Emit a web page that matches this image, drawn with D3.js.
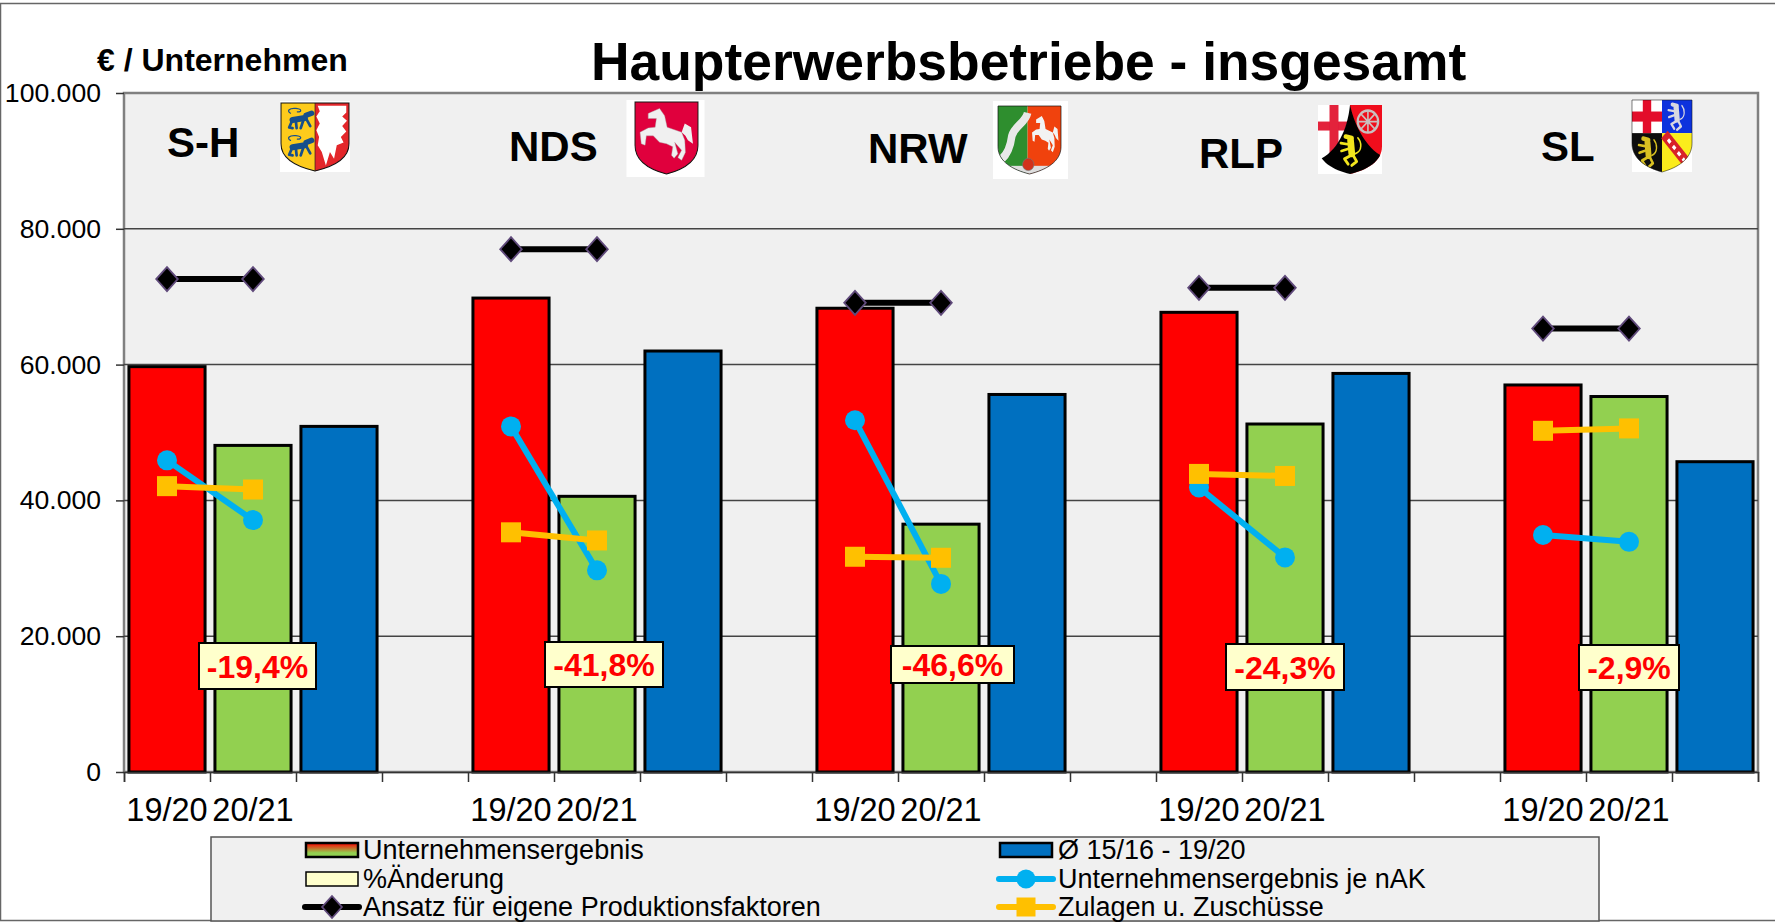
<!DOCTYPE html>
<html>
<head>
<meta charset="utf-8">
<script src="https://cdn.jsdelivr.net/npm/d3@7"></script>
<style>
    html, body { margin: 0; padding: 0; background: #fff; }
    svg { display: block; }
    text { font-family: "Liberation Sans", Arial, sans-serif; fill: #000; }
</style>
</head>
<body>
<svg id="chart" width="1775" height="923"></svg>
<script>
// data
const regions = ['S-H', 'NDS', 'NRW', 'RLP', 'SL'];
const years = ['19/20', '20/21'];
const yTicks = [0, 20000, 40000, 60000, 80000, 100000];

const ergebnis1920 = [59700, 69800, 68300, 67700, 57000];
const ergebnis2021 = [48100, 40600, 36500, 51250, 55300];
const avg1520 = [50900, 62000, 55600, 58700, 45700];
const ansatz1920 = [72600, 77000, 69100, 71300, 65300];
const ansatz2021 = [72600, 77000, 69100, 71300, 65300];
const nak1920 = [45900, 50900, 51800, 41900, 34900];
const nak2021 = [37100, 29700, 27700, 31600, 33900];
const zulagen1920 = [42100, 35300, 31700, 43900, 50250];
const zulagen2021 = [41600, 34100, 31550, 43600, 50600];
const pctChange = ['-19,4%', '-41,8%', '-46,6%', '-24,3%', '-2,9%'];

const legendLeft = ['Unternehmensergebnis', '%Änderung', 'Ansatz für eigene Produktionsfaktoren'];
const legendRight = ['Ø 15/16 - 19/20', 'Unternehmensergebnis je nAK', 'Zulagen u. Zuschüsse'];

// layout
const width = 1775, height = 923;
const plot = { left: 124, right: 1758, top: 93, bottom: 772 };
const red = '#ff0000', green = '#92d050', blue = '#0070c0';
const cyan = '#00b0f0', gold = '#ffc000', paleYellow = '#ffffcc', panel = '#f0f0f0';

// hand placed boxes and region names, the original has them free floating
const pctBoxes = [[199, 643, 117, 46], [545, 642, 118, 45], [891, 646, 123, 37], [1226, 644, 118, 46], [1579, 645, 100, 45]];
const regionLabels = [[167, 157], [509, 161], [868, 163], [1199, 168], [1541, 161]];

const svg = d3.select('#chart');

// outer frame
svg.append('rect').attr('x', 0.5).attr('y', 3.5).attr('width', width + 4).attr('height', 917)
    .attr('fill', '#fff').attr('stroke', '#666').attr('stroke-width', 1.5);

// scales: 19 slots, four per region with the last one of each left empty
const slots = d3.range(regions.length * 4 - 1);
const x = d3.scaleBand().domain(slots).range([plot.left, plot.right]).paddingInner(0.115).paddingOuter(0.0575);
const edge = d3.scaleLinear().domain([0, slots.length]).range([plot.left, plot.right]);
const y = d3.scaleLinear().domain([0, 100000]).range([plot.bottom, plot.top]);
const slotCenter = s => x(s) + x.bandwidth() / 2;

const de = d3.formatLocale({ decimal: ',', thousands: '.', grouping: [3], currency: ['', '€'] });

// plot background
svg.append('rect')
    .attr('x', plot.left).attr('y', plot.top)
    .attr('width', plot.right - plot.left).attr('height', plot.bottom - plot.top)
    .attr('fill', panel).attr('stroke', '#808080').attr('stroke-width', 2.5);

// gridlines + y axis
const yAxis = svg.append('g')
    .attr('transform', `translate(${plot.left}, 0)`)
    .call(d3.axisLeft(y).tickValues(yTicks).tickSize(8).tickPadding(15).tickFormat(de.format(',d')));
yAxis.select('.domain').remove();
yAxis.selectAll('line').attr('stroke', '#333').attr('stroke-width', 1.5);
yAxis.selectAll('text').attr('font-size', 26.6).style('font-family', '"Liberation Sans"').attr('fill', '#000');

svg.append('g').selectAll('line')
    .data(yTicks.filter(d => d > 0 && d < 100000))
    .join('line')
    .attr('x1', plot.left).attr('x2', plot.right)
    .attr('y1', d => y(d)).attr('y2', d => y(d))
    .attr('stroke', '#444').attr('stroke-width', 1.5);

// bars
const barData = regions.flatMap((r, i) => [
    { slot: i * 4, value: ergebnis1920[i], fill: red },
    { slot: i * 4 + 1, value: ergebnis2021[i], fill: green },
    { slot: i * 4 + 2, value: avg1520[i], fill: blue }
]);
svg.append('g').selectAll('rect')
    .data(barData)
    .join('rect')
    .attr('x', d => x(d.slot))
    .attr('y', d => y(d.value))
    .attr('width', x.bandwidth())
    .attr('height', d => y(0) - y(d.value))
    .attr('fill', d => d.fill)
    .attr('stroke', '#000')
    .attr('stroke-width', 3);

// x axis, ticks on the slot edges
const xTickAxis = svg.append('g')
    .attr('transform', `translate(0, ${plot.bottom})`)
    .call(d3.axisBottom(edge).ticks(slots.length).tickSize(10).tickFormat(''));
xTickAxis.select('.domain').attr('stroke', '#333').attr('stroke-width', 1.5);
xTickAxis.selectAll('line').attr('stroke', '#333').attr('stroke-width', 1.5);

const xLabelAxis = svg.append('g')
    .attr('transform', `translate(0, ${plot.bottom})`)
    .call(d3.axisBottom(x).tickSize(0).tickPadding(26)
        .tickValues(slots.filter(s => s % 4 < 2))
        .tickFormat(s => years[s % 4]));
xLabelAxis.select('.domain').remove();
xLabelAxis.selectAll('text').attr('font-size', 32.5).style('font-family', '"Liberation Sans"').attr('fill', '#000');

// line series drawn per region, each one only joins its two years
const line = d3.line().x(d => d.x).y(d => d.y);
const pairs = (a, b) => regions.map((r, i) => [
    { x: slotCenter(i * 4), y: y(a[i]) },
    { x: slotCenter(i * 4 + 1), y: y(b[i]) }
]);

const diamond = (g, s) => g.append('path')
    .attr('d', `M0,${-s}L${s * 0.9},0L0,${s}L${-s * 0.9},0Z`)
    .attr('fill', '#000').attr('stroke', '#604a7b').attr('stroke-width', 1.8);

function drawSeries(data, color, strokeW, marker) {
    const g = svg.append('g');
    g.selectAll('path.l').data(data).join('path').attr('class', 'l')
        .attr('d', line).attr('fill', 'none').attr('stroke', color).attr('stroke-width', strokeW);
    g.selectAll('g.m').data(data.flat()).join('g').attr('class', 'm')
        .attr('transform', d => `translate(${d.x},${d.y})`)
        .each(function () { marker(d3.select(this)); });
}

drawSeries(pairs(ansatz1920, ansatz2021), '#000', 6, m => diamond(m, 12));
drawSeries(pairs(nak1920, nak2021), cyan, 6, m => m.append('circle').attr('r', 10).attr('fill', cyan));
drawSeries(pairs(zulagen1920, zulagen2021), gold, 6, m => m.append('rect')
    .attr('x', -10).attr('y', -10).attr('width', 20).attr('height', 20).attr('fill', gold));

// percent boxes
const pct = svg.append('g').selectAll('g').data(pctChange).join('g');
pct.append('rect')
    .attr('x', (d, i) => pctBoxes[i][0]).attr('y', (d, i) => pctBoxes[i][1])
    .attr('width', (d, i) => pctBoxes[i][2]).attr('height', (d, i) => pctBoxes[i][3])
    .attr('fill', paleYellow).attr('stroke', '#000').attr('stroke-width', 2);
pct.append('text')
    .attr('x', (d, i) => pctBoxes[i][0] + pctBoxes[i][2] / 2)
    .attr('y', (d, i) => pctBoxes[i][1] + pctBoxes[i][3] / 2 + 11.5)
    .attr('text-anchor', 'middle').attr('font-size', 32).attr('font-weight', 'bold')
    .style('fill', red)
    .text(d => d);

// titles
svg.append('text').attr('x', 591).attr('y', 80).attr('font-size', 53.4).attr('font-weight', 'bold')
    .text('Haupterwerbsbetriebe - insgesamt');
svg.append('text').attr('x', 97).attr('y', 71).attr('font-size', 32).attr('font-weight', 'bold')
    .text('€ / Unternehmen');
svg.append('g').selectAll('text').data(regions).join('text')
    .attr('x', (d, i) => regionLabels[i][0]).attr('y', (d, i) => regionLabels[i][1])
    .attr('font-size', 42).attr('font-weight', 'bold')
    .text(d => d);

// legend
const legendBox = { x: 211, y: 837, w: 1388, h: 84 };
const rowY = [850, 879, 907];
const legend = svg.append('g');
legend.append('rect')
    .attr('x', legendBox.x).attr('y', legendBox.y).attr('width', legendBox.w).attr('height', legendBox.h)
    .attr('fill', panel).attr('stroke', '#555').attr('stroke-width', 1.5);

const defs = svg.append('defs');
const grad = defs.append('linearGradient').attr('id', 'swatchGrad').attr('x1', 0).attr('x2', 0).attr('y1', 0).attr('y2', 1);
grad.append('stop').attr('offset', '0%').attr('stop-color', red);
grad.append('stop').attr('offset', '70%').attr('stop-color', green);
grad.append('stop').attr('offset', '100%').attr('stop-color', green);

const swatch = (sx, cy, fill, stroke, sw) => legend.append('rect')
    .attr('x', sx).attr('y', cy - 7).attr('width', 52).attr('height', 14)
    .attr('fill', fill).attr('stroke', stroke).attr('stroke-width', sw);
const legendLine = (sx, cy, color, drawMarker) => {
    legend.append('line').attr('x1', sx).attr('x2', sx + 54).attr('y1', cy).attr('y2', cy)
        .attr('stroke', color).attr('stroke-width', 6).attr('stroke-linecap', 'round');
    drawMarker(legend.append('g').attr('transform', `translate(${sx + 27},${cy})`));
};
swatch(306, rowY[0], 'url(#swatchGrad)', '#000', 2.5);
swatch(306, rowY[1], paleYellow, '#000', 1.5);
legendLine(305, rowY[2], '#000', m => diamond(m, 11));
swatch(1000, rowY[0], blue, '#000', 2.5);
legendLine(999, rowY[1], cyan, m => m.append('circle').attr('r', 9.5).attr('fill', cyan));
legendLine(999, rowY[2], gold, m => m.append('rect').attr('x', -9.5).attr('y', -9.5).attr('width', 19).attr('height', 19).attr('fill', gold));

legend.selectAll('text.left').data(legendLeft).join('text').attr('class', 'left')
    .attr('x', 363).attr('y', (d, i) => rowY[i] + 9).attr('font-size', 27).text(d => d);
legend.selectAll('text.right').data(legendRight).join('text').attr('class', 'right')
    .attr('x', 1058).attr('y', (d, i) => rowY[i] + 9).attr('font-size', 27).text(d => d);

// ---- coats of arms, rough little drawings in a 100x100 box ----
const shieldPath = 'M0,0H100V60C100,82 76,94 50,100C24,94 0,82 0,60Z';
const blur = defs.append('filter').attr('id', 'soft');
blur.append('feGaussianBlur').attr('stdDeviation', 0.45);

function crest(idx, bg, box) {
    if (bg) svg.append('rect').attr('x', bg[0]).attr('y', bg[1]).attr('width', bg[2]).attr('height', bg[3]).attr('fill', '#fff');
    defs.append('clipPath').attr('id', 'clip' + idx).append('path').attr('d', shieldPath);
    const outer = svg.append('g')
        .attr('transform', `translate(${box[0]},${box[1]}) scale(${box[2] / 100},${box[3] / 100})`)
        .attr('filter', 'url(#soft)');
    const g = outer.append('g').attr('clip-path', `url(#clip${idx})`);
    return { g, outer };
}
const R = (g, a, b, c, d, fill) => g.append('rect').attr('x', a).attr('y', b).attr('width', c).attr('height', d).attr('fill', fill);
const P = (g, d, fill) => g.append('path').attr('d', d).attr('fill', fill);
const outline = (c, w) => c.outer.append('path').attr('d', shieldPath).attr('fill', 'none').attr('stroke', '#111').attr('stroke-width', w || 1.5);

// rampant lion as thick strokes, sits in a 40x50 box
function lion(g, tx, ty, s, color) {
    const l = g.append('g').attr('transform', `translate(${tx},${ty}) scale(${s})`)
        .attr('fill', 'none').attr('stroke', color).attr('stroke-linecap', 'round').attr('stroke-linejoin', 'round');
    l.append('path').attr('d', 'M22,10L24,30').attr('stroke-width', 11);
    l.append('path').attr('d', 'M24,6L14,4').attr('stroke-width', 7);
    l.append('path').attr('d', 'M20,16L6,14M20,22L7,26').attr('stroke-width', 4);
    l.append('path').attr('d', 'M24,32L12,38L18,46M26,32L32,42L24,48').attr('stroke-width', 4.5);
    l.append('path').attr('d', 'M30,30C42,26 40,12 34,6').attr('stroke-width', 2.5);
}
// walking lion for S-H, head to the right
function walkLion(g, tx, ty, s, color) {
    const l = g.append('g').attr('transform', `translate(${tx},${ty}) scale(${s})`)
        .attr('fill', 'none').attr('stroke', color).attr('stroke-linecap', 'round').attr('stroke-linejoin', 'round');
    l.append('path').attr('d', 'M6,5C0,2 4,-3 14,-2C24,-1 22,4 16,3').attr('stroke-width', 1.8);
    l.append('path').attr('d', 'M9,15L27,12').attr('stroke-width', 9);
    l.append('path').attr('d', 'M29,8L37,5').attr('stroke-width', 8);
    l.append('path').attr('d', 'M8,17L4,26L9,27M14,18L15,27M25,15L21,27M29,13L35,24').attr('stroke-width', 4);
}
// rearing horse, head to the left
function horse(g, color, stroke) {
    P(g, 'M74,42L79,30L89,35L92,58L84,53L80,47Z', color);
    P(g, 'M26,14L39,9L47,19L51,35L74,42L79,53L80,70L74,81L68,77L74,67L63,56L68,72L62,78L58,74L60,62L50,58L39,56L29,47L18,47L16,60L10,58L8,42L21,36L32,35L34,23L21,23L21,16Z', color)
        .attr('stroke', stroke || 'none').attr('stroke-width', 0.6).attr('stroke-linejoin', 'round');
}

// Schleswig-Holstein
(() => {
    const c = crest(0, [280, 101, 70, 71], [281, 103, 68, 68]);
    R(c.g, 0, 0, 50, 100, '#fdcb1f');
    R(c.g, 50, 0, 50, 100, '#e3262a');
    P(c.g, 'M54,4H96V14L90,20L97,26L90,34L96,42L88,50L92,58L82,62L78,82L72,72L66,92L60,72L54,62L56,50L52,40L57,30L52,20L57,12Z', '#fff');
    walkLion(c.g, 8, 10, 1.0, '#17508c');
    walkLion(c.g, 8, 50, 1.0, '#17508c');
    c.g.append('line').attr('x1', 50).attr('x2', 50).attr('y1', 0).attr('y2', 100).attr('stroke', '#222').attr('stroke-width', 1);
    outline(c);
})();

// Niedersachsen
(() => {
    const c = crest(1, [626.5, 100, 78, 77], [635, 102, 63, 72]);
    R(c.g, 0, 0, 100, 100, '#e0003c');
    horse(c.g, '#f0f0f0', '#aaa');
    outline(c);
})();

// NRW
(() => {
    const c = crest(2, [993, 101, 75, 78], [998, 106, 63, 68]);
    R(c.g, 0, 0, 47, 100, '#2d8e2f');
    R(c.g, 47, 0, 53, 100, '#f0420f');
    R(c.g, 0, 88, 100, 12, '#dedede');
    c.g.append('path').attr('d', 'M47,10C44,24 26,30 22,44C20,58 16,70 6,78')
        .attr('fill', 'none').attr('stroke', '#e8e8e8').attr('stroke-width', 12);
    const h = c.g.append('g').attr('transform', 'translate(50,8) scale(0.5,0.74)');
    horse(h, '#f2f2f2');
    c.g.append('circle').attr('cx', 48).attr('cy', 86).attr('r', 9).attr('fill', '#d2301a').attr('stroke', '#777');
    outline(c, 1);
})();

// Rheinland-Pfalz
(() => {
    const c = crest(3, [1318, 105, 64, 69], [1318, 105, 64, 69]);
    R(c.g, 0, 0, 100, 100, '#ffffff');
    R(c.g, 50, 0, 50, 100, '#f0101a');
    R(c.g, 0, 24, 48, 13, '#e3203a');
    R(c.g, 18, 0, 14, 70, '#e3203a');
    P(c.g, 'M50,0C58,32 76,62 100,74V100H0V80C30,68 46,36 50,0Z', '#050505');
    const w = c.g.append('g').attr('fill', 'none').attr('stroke', '#c9c0c0');
    w.append('circle').attr('cx', 78).attr('cy', 24).attr('r', 16).attr('stroke-width', 3.5);
    w.append('path').attr('d', 'M78,8V40M62,24H94M67,13L89,35M89,13L67,35').attr('stroke-width', 2.5);
    lion(c.g, 30, 42, 0.95, '#f2e51f');
})();

// Saarland
(() => {
    const c = crest(4, [1632, 100, 60, 72], [1632, 100, 60, 72]);
    R(c.g, 0, 0, 50, 46, '#ffffff');
    R(c.g, 50, 0, 50, 46, '#1133dd');
    R(c.g, 0, 46, 50, 54, '#0c0c0c');
    R(c.g, 50, 46, 50, 54, '#fbec1a');
    R(c.g, 0, 16, 50, 14, '#e3102a');
    R(c.g, 18, 0, 14, 46, '#e3102a');
    lion(c.g, 56, 3, 0.8, '#d8d8e0');
    lion(c.g, 6, 50, 0.9, '#d8c020');
    c.g.append('path').attr('d', 'M54,48L96,92').attr('stroke', '#d8232a').attr('stroke-width', 15);
    c.g.append('path').attr('d', 'M60,55L88,85').attr('stroke', '#fff').attr('stroke-width', 5).attr('stroke-dasharray', '6 6');
    outline(c, 0.8);
})();
</script>
</body>
</html>
